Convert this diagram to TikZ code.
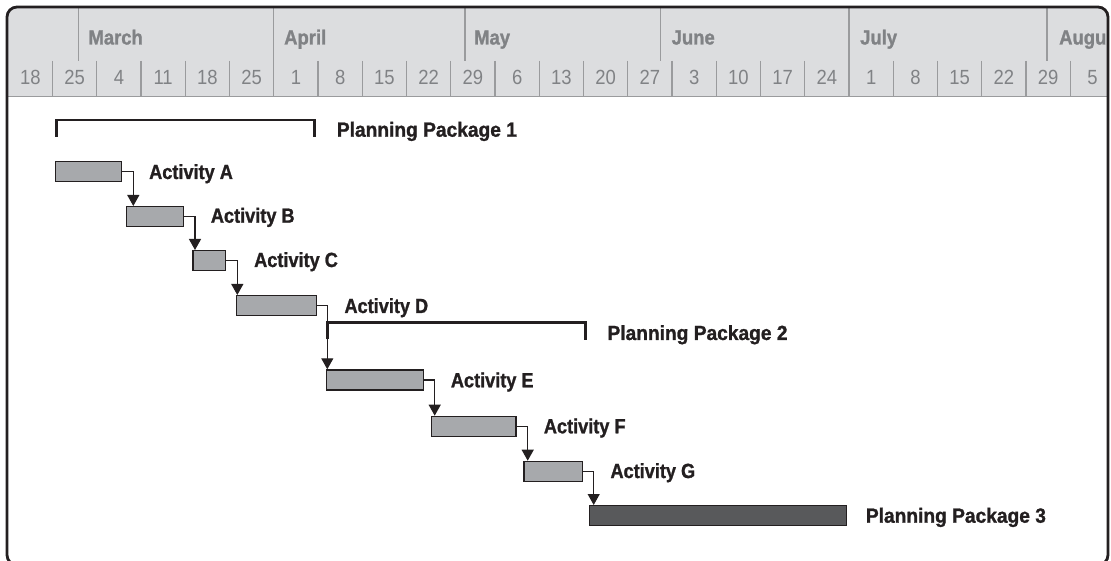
\documentclass[tikz,border=0pt]{standalone}
\usepackage{fontspec}
\usetikzlibrary{arrows.meta}
\setmainfont{Liberation Sans}
\newfontfamily\actfontfam{Liberation Sans}[FakeStretch=0.885, FakeBold=1.2]
\newfontfamily\ppfontfam{Liberation Sans}[FakeStretch=0.935, FakeBold=1.2]
\newfontfamily\monfontfam{Liberation Sans}[FakeStretch=0.9, FakeBold=1.2]
\newfontfamily\wkfontfam{Liberation Sans}[FakeStretch=0.9]
\newcommand\actsty{\actfontfam\bfseries\fontsize{20.5bp}{24bp}\selectfont}
\newcommand\ppsty{\ppfontfam\bfseries\fontsize{20.5bp}{24bp}\selectfont}
\newcommand\monsty{\monfontfam\bfseries\fontsize{20.5bp}{24bp}\selectfont}
\newcommand\wksty{\wkfontfam\fontsize{20.5bp}{24bp}\selectfont}
\definecolor{ink}{HTML}{231F20}
\definecolor{hdrbg}{HTML}{DCDDDF}
\definecolor{hdrtxt}{HTML}{808285}
\definecolor{hdrline}{HTML}{9A9B9D}
\definecolor{barfill}{HTML}{A7A9AC}
\definecolor{ppfill}{HTML}{58595B}
\tikzset{
  frame/.style={draw=ink, line width=2.8bp, rounded corners=10bp},
  gridln/.style={draw=hdrline, line width=1.3bp},
  wk/.style={font=\wksty, text=hdrtxt, anchor=base, inner sep=0pt},
  mon/.style={font=\monsty, text=hdrtxt, anchor=base west, inner sep=0pt},
  actbar/.style={draw=ink, fill=barfill, line width=1.4bp, anchor=north west, inner sep=0pt, minimum height=20bp},
  ppbar/.style={actbar, fill=ppfill},
  conn/.style={draw=ink, line width=1.2bp, -{Triangle[width=12bp,length=11bp]}},
  bracket/.style={draw=ink, line width=2.7bp},
  actlbl/.style={font=\actsty, text=ink, anchor=base west, inner sep=0pt},
  pplbl/.style={font=\ppsty, text=ink, anchor=base west, inner sep=0pt},
}
\begin{document}
\begin{tikzpicture}[x=1bp, y=-1bp]
\useasboundingbox (0,0) rectangle (1111,561);
\clip (0,0) rectangle (1111,561);
% header background
\begin{scope}
  \clip (0,0) rectangle (1111,96.5);
  \fill[hdrbg, rounded corners=10bp] (7,7) rectangle (1108,565);
\end{scope}
\begin{scope}
  \clip (8,8) rectangle (1107,97);
  % week separators
  \foreach \k in {0,...,23} {
    \draw[gridln] ({52.5+44.25*\k},61) -- ({52.5+44.25*\k},96.5);
  }
  % month separators
  \foreach \mx in {78.5,273.75,465,660.5,849,1047} {
    \draw[gridln] (\mx,8) -- (\mx,61);
  }
  % month labels
  \node[mon] (mMar) at (88.3,44.5) {March};
  \node[mon] (mApr) at (284,44.5) {April};
  \node[mon] (mMay) at (474,44.5) {May};
  \node[mon] (mJun) at (671.5,44.5) {June};
  \node[mon] (mJul) at (860,44.5) {July};
  \node[mon] (mAug) at (1059,44.5) {Augu};
  % week numbers
  \foreach \n [count=\j from 0] in {18,25,4,11,18,25,1,8,15,22,29,6,13,20,27,3,10,17,24,1,8,15,22,29,5} {
    \node[wk] (w\j) at ({30.4+44.25*\j},85) {\n};
  }
\end{scope}
\draw[gridln] (7,96.5) -- (1108,96.5);
% frame
\draw[frame] (7,7) rectangle (1108,565);

% planning package 1 bracket
\draw[bracket] (56.7,137) |- (314.3,120) -- (314.3,137);
\node[pplbl] (pp1) at (336.7,136.7) {Planning Package 1};

% activity bars
\node[actbar, minimum width=66bp] (A) at (55,161) {};
\node[actbar, minimum width=56.7bp] (B) at (126,206) {};
\node[actbar, minimum width=32.7bp] (C) at (192.3,250) {};
\node[actbar, minimum width=79.7bp] (D) at (236,295) {};
\node[actbar, minimum width=97bp] (E) at (325.7,369.3) {};
\node[actbar, minimum width=84.6bp] (F) at (430.7,415.7) {};
\node[actbar, minimum width=58.7bp] (G) at (523.3,460.7) {};
\node[ppbar, minimum width=257bp] (P3) at (589,505) {};

% labels
\node[actlbl] (lA) at (149,179) {Activity A};
\node[actlbl] (lB) at (210.7,222.7) {Activity B};
\node[actlbl] (lC) at (254,267) {Activity C};
\node[actlbl] (lD) at (344.3,313) {Activity D};
\node[actlbl] (lE) at (450.7,387.3) {Activity E};
\node[actlbl] (lF) at (543.7,433.3) {Activity F};
\node[actlbl] (lG) at (610.3,478) {Activity G};
\node[pplbl] (pp2) at (607.3,340) {Planning Package 2};
\node[pplbl] (pp3) at (865.7,522.7) {Planning Package 3};

% planning package 2 bracket
\draw[bracket] (327.3,339.5) |- (585.7,322.7) -- (585.7,340);

% connector end points
\coordinate (inB) at (133.3,206);
\coordinate (inC) at (195,250);
\coordinate (inD) at (237.3,295);
\coordinate (inE) at (327.3,369.3);
\coordinate (inF) at (434.7,415.7);
\coordinate (inG) at (527.7,460.7);
\coordinate (inP) at (593.7,505);

\draw[conn] (A.east) -| (inB);
\draw[conn] (B.east) -| (inC);
\draw[conn] (C.east) -| (inD);
\draw[conn] (D.east) -| (inE);
\draw[conn] (E.east) -| (inF);
\draw[conn] (F.east) -| (inG);
\draw[conn] (G.east) -| (inP);
\end{tikzpicture}
\end{document}
